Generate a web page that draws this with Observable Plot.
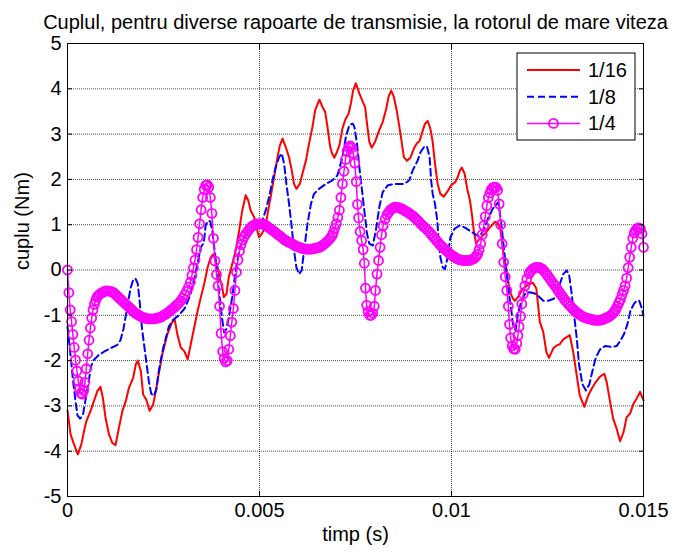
<!DOCTYPE html>
<html><head><meta charset="utf-8">
<script src="https://cdn.jsdelivr.net/npm/d3@7"></script>
<script src="https://cdn.jsdelivr.net/npm/@observablehq/plot@0.6"></script>
<style>body{margin:0;background:#fff} #chart{width:676px;height:553px}</style>
</head><body><div id="chart"></div>
<script>
const titlu = "Cuplul, pentru diverse rapoarte de transmisie, la rotorul de mare viteza";
const etichetaX = "timp (s)";
const etichetaY = "cuplu (Nm)";
const xTicks = [0, 5, 10, 15]; // ms
const xTickLabels = ["0", "0.005", "0.01", "0.015"];
const yTicks = [-5, -4, -3, -2, -1, 0, 1, 2, 3, 4, 5];
const serii = ["1/16", "1/8", "1/4"];
const culori = ["#ff0000", "#0000ff", "#ff00ff"];

// [timp (ms), cuplu (Nm)]
const raport16 = [
[0,-3.1],[0.08,-3.63],[0.17,-3.85],[0.27,-4.07],[0.36,-3.85],[0.43,-3.56],[0.49,-3.34],[0.6,-3.11],[0.69,-2.89],[0.78,-2.67],
[0.86,-2.58],[0.92,-2.82],[0.99,-3.26],[1.08,-3.63],[1.17,-3.82],[1.25,-3.87],[1.34,-3.48],[1.43,-3.11],[1.52,-2.89],[1.6,-2.6],
[1.71,-2.38],[1.78,-2.08],[1.83,-2.0],[1.91,-2.23],[1.97,-2.75],[2.05,-2.86],[2.14,-3.11],[2.23,-2.97],[2.3,-2.67],[2.39,-2.23],
[2.47,-1.86],[2.6,-1.42],[2.72,-1.16],[2.79,-1.08],[2.86,-1.42],[2.95,-1.71],[3.04,-1.79],[3.13,-1.97],[3.21,-1.64],[3.3,-1.27],
[3.39,-0.9],[3.47,-0.61],[3.56,-0.31],[3.65,0.06],[3.73,0.28],[3.8,0.35],[3.9,0.1],[3.97,-0.2],[4.03,-0.38],[4.07,-0.6],
[4.14,-0.53],[4.2,-0.16],[4.29,0.13],[4.38,0.43],[4.47,0.87],[4.55,1.31],[4.64,1.65],[4.71,1.53],[4.77,1.31],[4.86,1.17],
[4.92,0.94],[4.99,0.72],[5.06,0.8],[5.15,0.94],[5.21,1.24],[5.29,1.61],[5.38,2.05],[5.47,2.49],[5.53,2.75],[5.6,2.9],
[5.68,2.72],[5.77,2.49],[5.84,2.2],[5.9,1.9],[5.96,1.79],[6.05,1.9],[6.12,2.13],[6.21,2.42],[6.29,2.79],[6.38,3.16],
[6.45,3.53],[6.56,3.76],[6.64,3.6],[6.71,3.49],[6.77,3.16],[6.84,2.72],[6.89,2.57],[6.95,2.48],[7.02,2.61],[7.08,2.75],
[7.16,3.12],[7.23,3.31],[7.32,3.45],[7.38,3.68],[7.44,3.97],[7.51,4.12],[7.6,3.9],[7.69,3.71],[7.75,3.6],[7.8,3.23],
[7.86,2.83],[7.92,2.7],[8.01,2.83],[8.1,3.05],[8.21,3.27],[8.3,3.56],[8.36,3.82],[8.43,3.96],[8.5,3.82],[8.58,3.49],
[8.67,3.01],[8.76,2.49],[8.84,2.41],[8.93,2.48],[9.02,2.68],[9.1,2.8],[9.17,2.85],[9.24,3.05],[9.31,3.23],[9.38,3.29],
[9.45,3.12],[9.51,2.83],[9.57,2.35],[9.64,1.9],[9.71,1.68],[9.8,1.62],[9.9,1.74],[9.99,1.87],[10.1,1.94],[10.17,2.07],
[10.22,2.2],[10.27,2.26],[10.34,2.13],[10.41,1.79],[10.48,1.54],[10.53,1.24],[10.58,0.87],[10.64,0.58],[10.73,0.69],[10.87,0.8],
[11.0,0.94],[11.13,1.06],[11.2,1.05],[11.27,0.9],[11.35,0.4],[11.45,-0.1],[11.52,-0.48],[11.6,-0.63],[11.65,-0.68],[11.73,-0.6],
[11.86,-0.41],[11.99,-0.33],[12.12,-0.28],[12.21,-0.41],[12.3,-1.14],[12.39,-1.37],[12.47,-1.81],[12.54,-1.94],[12.65,-1.73],[12.73,-1.67],
[12.82,-1.64],[12.91,-1.53],[13.0,-1.48],[13.08,-1.44],[13.17,-1.81],[13.26,-2.32],[13.34,-2.77],[13.46,-3.02],[13.56,-2.77],[13.65,-2.62],
[13.73,-2.51],[13.86,-2.36],[13.98,-2.29],[14.04,-2.47],[14.13,-2.91],[14.21,-3.28],[14.3,-3.5],[14.39,-3.78],[14.48,-3.58],[14.56,-3.25],
[14.65,-3.17],[14.74,-2.95],[14.82,-2.84],[14.91,-2.69],[15.0,-2.88]
];

const raport8 = [
[0,-1.25],[0.07,-1.81],[0.14,-2.4],[0.2,-2.84],[0.26,-3.21],[0.33,-3.28],[0.4,-3.21],[0.46,-2.91],[0.55,-2.47],[0.61,-2.14],
[0.68,-1.99],[0.81,-1.88],[0.94,-1.81],[1.11,-1.73],[1.29,-1.66],[1.38,-1.55],[1.46,-1.29],[1.55,-0.85],[1.64,-0.41],[1.71,-0.22],
[1.77,-0.19],[1.83,-0.3],[1.88,-0.7],[1.94,-1.29],[2.03,-1.88],[2.12,-2.47],[2.18,-2.73],[2.25,-2.78],[2.32,-2.62],[2.36,-2.32],
[2.42,-2.03],[2.49,-1.73],[2.58,-1.44],[2.64,-1.25],[2.75,-1.1],[2.9,-1.0],[3.05,-0.85],[3.2,-0.55],[3.3,-0.2],[3.4,0.2],
[3.47,0.5],[3.55,0.6],[3.6,1.0],[3.67,1.09],[3.72,1.07],[3.77,0.87],[3.85,0.3],[3.95,-0.5],[4.03,-1.1],[4.08,-1.38],
[4.14,-1.3],[4.2,-1.05],[4.29,-0.6],[4.38,-0.01],[4.47,0.43],[4.55,0.65],[4.68,0.8],[4.81,0.87],[4.94,0.94],[5.07,1.09],
[5.16,1.31],[5.25,1.61],[5.34,1.98],[5.42,2.27],[5.51,2.49],[5.58,2.57],[5.64,2.35],[5.7,1.9],[5.77,1.46],[5.84,0.94],
[5.9,0.43],[5.96,0.06],[6.03,-0.09],[6.1,-0.01],[6.16,0.43],[6.25,1.02],[6.34,1.46],[6.42,1.68],[6.55,1.79],[6.73,1.9],
[6.9,1.98],[7.03,2.09],[7.16,2.49],[7.25,2.94],[7.34,3.2],[7.43,3.23],[7.47,3.16],[7.54,2.79],[7.6,2.27],[7.66,1.83],
[7.73,1.31],[7.8,0.8],[7.86,0.58],[7.95,0.54],[8.03,0.87],[8.12,1.39],[8.21,1.72],[8.34,1.87],[8.51,1.9],[8.77,1.9],
[8.9,1.98],[8.99,2.2],[9.12,2.42],[9.2,2.61],[9.29,2.72],[9.36,2.73],[9.43,2.49],[9.47,1.98],[9.51,1.68],[9.57,1.46],
[9.63,1.09],[9.66,0.72],[9.71,0.28],[9.77,0.06],[9.83,0.02],[9.9,0.28],[9.97,0.72],[10.08,0.91],[10.21,0.98],[10.34,0.94],
[10.47,0.87],[10.6,0.8],[10.73,0.74],[10.85,0.9],[10.95,1.14],[11.08,1.36],[11.15,1.43],[11.22,1.5],[11.3,1.0],[11.4,0.2],
[11.5,-0.55],[11.56,-0.9],[11.6,-1.2],[11.67,-1.34],[11.73,-0.97],[11.82,-0.68],[11.91,-0.53],[12.04,-0.49],[12.21,-0.53],[12.39,-0.68],
[12.52,-0.68],[12.65,-0.64],[12.74,-0.57],[12.82,-0.31],[12.91,-0.09],[13.0,-0.01],[13.06,-0.09],[13.12,-0.46],[13.18,-0.9],[13.26,-1.49],
[13.32,-2.08],[13.41,-2.52],[13.5,-2.66],[13.59,-2.52],[13.67,-2.23],[13.76,-1.93],[13.87,-1.75],[14.0,-1.68],[14.17,-1.7],[14.3,-1.68],
[14.4,-1.56],[14.49,-1.42],[14.58,-1.2],[14.66,-0.9],[14.75,-0.75],[14.82,-0.68],[14.89,-0.68],[14.95,-0.83],[15.0,-1.01]
];

const raport4 = [
[0,0],[0.035,-0.5],[0.07,-0.88],[0.105,-1.14],[0.14,-1.42],[0.175,-1.71],[0.21,-1.99],[0.245,-2.23],[0.28,-2.45],[0.315,-2.62],
[0.35,-2.72],[0.385,-2.74],[0.42,-2.66],[0.455,-2.48],[0.49,-2.18],[0.525,-1.85],[0.56,-1.55],[0.595,-1.28],[0.63,-1.06],[0.665,-0.88],
[0.7,-0.76],[0.735,-0.67],[0.77,-0.6],[0.805,-0.56],[0.85,-0.53],[0.9,-0.5],[0.95,-0.48],[1.0,-0.46],[1.05,-0.46],[1.1,-0.47],
[1.15,-0.48],[1.2,-0.5],[1.25,-0.54],[1.3,-0.58],[1.35,-0.62],[1.4,-0.66],[1.45,-0.7],[1.5,-0.74],[1.55,-0.78],[1.6,-0.82],
[1.65,-0.86],[1.7,-0.9],[1.75,-0.94],[1.8,-0.97],[1.85,-1.0],[1.9,-1.02],[1.95,-1.04],[2.0,-1.06],[2.05,-1.07],[2.1,-1.08],
[2.15,-1.08],[2.2,-1.08],[2.25,-1.08],[2.3,-1.07],[2.35,-1.06],[2.4,-1.05],[2.45,-1.03],[2.5,-1.0],[2.55,-0.98],[2.6,-0.95],
[2.65,-0.92],[2.7,-0.88],[2.75,-0.85],[2.8,-0.81],[2.85,-0.77],[2.9,-0.73],[2.95,-0.68],[3.0,-0.62],[3.05,-0.55],[3.1,-0.47],
[3.15,-0.38],[3.2,-0.27],[3.24,-0.12],[3.28,0.05],[3.32,0.22],[3.36,0.45],[3.4,0.72],[3.44,1.02],[3.48,1.33],[3.52,1.6],
[3.56,1.78],[3.6,1.87],[3.64,1.88],[3.68,1.83],[3.72,1.6],[3.76,1.25],[3.8,0.7],[3.84,0.2],[3.88,-0.1],[3.92,-0.35],
[3.96,-0.8],[4.0,-1.4],[4.04,-1.8],[4.08,-1.95],[4.12,-2.03],[4.16,-2.0],[4.2,-1.75],[4.24,-1.45],[4.28,-1.15],[4.32,-0.85],
[4.36,-0.45],[4.4,-0.05],[4.44,0.22],[4.48,0.42],[4.52,0.56],[4.56,0.66],[4.6,0.74],[4.65,0.8],[4.7,0.86],[4.75,0.92],
[4.8,0.96],[4.85,0.99],[4.9,1.01],[4.95,1.02],[5.0,1.02],[5.05,1.02],[5.1,1.01],[5.15,0.99],[5.2,0.96],[5.25,0.93],
[5.3,0.9],[5.35,0.87],[5.4,0.84],[5.45,0.8],[5.5,0.77],[5.55,0.74],[5.6,0.7],[5.65,0.67],[5.7,0.64],[5.75,0.62],
[5.8,0.6],[5.85,0.58],[5.9,0.55],[5.95,0.53],[6.0,0.51],[6.05,0.5],[6.1,0.48],[6.15,0.47],[6.2,0.46],[6.25,0.46],
[6.3,0.46],[6.35,0.46],[6.4,0.47],[6.45,0.48],[6.5,0.49],[6.55,0.5],[6.6,0.52],[6.65,0.55],[6.7,0.58],[6.75,0.62],
[6.8,0.66],[6.85,0.71],[6.89,0.76],[6.92,0.82],[6.96,0.92],[7.0,1.02],[7.04,1.16],[7.08,1.32],[7.12,1.6],[7.16,1.9],
[7.2,2.18],[7.24,2.44],[7.28,2.62],[7.32,2.71],[7.36,2.74],[7.4,2.7],[7.44,2.58],[7.48,2.36],[7.52,1.95],[7.55,1.45],
[7.58,1.15],[7.62,0.85],[7.66,0.65],[7.7,0.45],[7.73,0.15],[7.76,-0.4],[7.79,-0.78],[7.83,-0.92],[7.87,-1.0],[7.91,-1.0],
[7.95,-0.95],[7.99,-0.8],[8.02,-0.45],[8.06,-0.09],[8.1,0.21],[8.14,0.5],[8.18,0.78],[8.22,0.98],[8.27,1.12],[8.32,1.22],
[8.36,1.27],[8.4,1.32],[8.45,1.35],[8.5,1.38],[8.55,1.39],[8.6,1.38],[8.65,1.37],[8.7,1.35],[8.75,1.33],[8.8,1.3],
[8.85,1.28],[8.9,1.25],[8.95,1.22],[9.0,1.19],[9.05,1.15],[9.1,1.11],[9.15,1.07],[9.2,1.02],[9.25,0.98],[9.3,0.94],
[9.35,0.9],[9.4,0.86],[9.45,0.81],[9.5,0.76],[9.55,0.71],[9.6,0.66],[9.65,0.61],[9.7,0.56],[9.75,0.52],[9.8,0.48],
[9.85,0.44],[9.9,0.4],[9.95,0.36],[10.0,0.33],[10.05,0.3],[10.1,0.27],[10.15,0.25],[10.2,0.23],[10.25,0.22],[10.3,0.21],
[10.35,0.21],[10.4,0.21],[10.45,0.21],[10.5,0.22],[10.55,0.24],[10.6,0.26],[10.64,0.3],[10.68,0.35],[10.72,0.45],[10.76,0.58],
[10.8,0.78],[10.84,0.98],[10.88,1.18],[10.92,1.42],[10.96,1.6],[11.0,1.7],[11.04,1.78],[11.08,1.82],[11.12,1.83],[11.16,1.82],
[11.2,1.76],[11.24,1.46],[11.28,1.0],[11.32,0.58],[11.36,0.17],[11.4,-0.15],[11.44,-0.45],[11.48,-0.8],[11.51,-1.2],[11.54,-1.5],
[11.58,-1.68],[11.62,-1.74],[11.66,-1.75],[11.7,-1.62],[11.73,-1.45],[11.76,-1.25],[11.8,-1.02],[11.83,-0.75],[11.87,-0.53],[11.91,-0.35],
[11.96,-0.2],[12.02,-0.08],[12.06,-0.03],[12.1,0.01],[12.15,0.04],[12.2,0.06],[12.25,0.06],[12.3,0.05],[12.35,0.03],[12.4,-0.01],
[12.45,-0.06],[12.5,-0.12],[12.55,-0.18],[12.6,-0.24],[12.65,-0.3],[12.7,-0.35],[12.75,-0.42],[12.8,-0.48],[12.85,-0.54],[12.9,-0.6],
[12.95,-0.66],[13.0,-0.71],[13.05,-0.76],[13.1,-0.8],[13.15,-0.85],[13.2,-0.89],[13.25,-0.93],[13.3,-0.96],[13.35,-0.99],[13.4,-1.02],
[13.45,-1.04],[13.5,-1.06],[13.55,-1.07],[13.6,-1.08],[13.65,-1.09],[13.7,-1.1],[13.75,-1.11],[13.8,-1.11],[13.85,-1.11],[13.9,-1.1],
[13.95,-1.09],[14.0,-1.07],[14.05,-1.05],[14.1,-1.03],[14.15,-1.0],[14.2,-0.96],[14.24,-0.92],[14.28,-0.87],[14.32,-0.8],[14.36,-0.72],
[14.4,-0.65],[14.44,-0.55],[14.48,-0.45],[14.52,-0.35],[14.56,-0.18],[14.6,0.05],[14.64,0.28],[14.68,0.5],[14.72,0.7],[14.76,0.82],
[14.8,0.88],[14.84,0.92],[14.88,0.93],[14.92,0.91],[14.96,0.8],[15.0,0.5]
];

const font = "'Liberation Sans', Arial, Helvetica, sans-serif";
const toRows = (arr) => arr.map(([t, v]) => ({t, v}));
const d16 = toRows(raport16), d8 = toRows(raport8), d4 = toRows(raport4);
const gridStyle = {stroke: "#000", strokeOpacity: 0.7, strokeDasharray: "1,1"};

const plot = Plot.plot({
  width: 676, height: 553,
  marginTop: 43, marginBottom: 57, marginLeft: 67, marginRight: 33,
  style: {fontFamily: font, fontSize: "20px", background: "#fff", color: "#000", overflow: "visible"},
  x: {domain: [0, 15]},
  y: {domain: [-5, 5]},
  marks: [
    Plot.gridX(xTicks, gridStyle),
    Plot.gridY(yTicks, gridStyle),
    Plot.line(d16, {x: "t", y: "v", stroke: culori[0], strokeWidth: 2}),
    Plot.line(d8, {x: "t", y: "v", stroke: culori[1], strokeWidth: 2, strokeDasharray: "7,4"}),
    Plot.line(d4, {x: "t", y: "v", stroke: culori[2], strokeWidth: 1.5}),
    Plot.dot(d4, {x: "t", y: "v", r: 4.5, stroke: culori[2], strokeWidth: 1.8, fill: "none"}),
    Plot.frame({stroke: "#000"}),
    Plot.axisX(xTicks, {anchor: "bottom", tickSize: -5, tickPadding: 11, label: null,
      tickFormat: d => xTickLabels[xTicks.indexOf(d)]}),
    Plot.axisX(xTicks, {anchor: "top", tickSize: -5, label: null, tickFormat: () => ""}),
    Plot.axisY(yTicks, {anchor: "left", tickSize: -5, tickPadding: 11, label: null, tickFormat: d => String(d)}),
    Plot.axisY(yTicks, {anchor: "right", tickSize: -5, label: null, tickFormat: () => ""}),
    Plot.text([titlu], {frameAnchor: "top", dy: -29, fontSize: 20}),
    Plot.text([etichetaX], {frameAnchor: "bottom", dy: 44, fontSize: 20}),
    Plot.text([etichetaY], {frameAnchor: "left", dx: -45, rotate: -90, fontSize: 20})
  ]
});
document.getElementById("chart").appendChild(plot);

// legend
const svg = d3.select(plot);
const lg = svg.append("g").attr("font-family", font).attr("font-size", 20).attr("text-anchor", "start");
lg.append("rect").attr("x", 517).attr("y", 53).attr("width", 118).attr("height", 87)
  .attr("fill", "#fff").attr("stroke", "#000");
serii.forEach((s, i) => {
  const y = 70 + i * 26.7;
  const ln = lg.append("line").attr("x1", 527).attr("x2", 580).attr("y1", y).attr("y2", y)
    .attr("stroke", culori[i]).attr("stroke-width", i === 2 ? 1.5 : 2);
  if (i === 1) ln.attr("stroke-dasharray", "7,4");
  if (i === 2) lg.append("circle").attr("cx", 553.5).attr("cy", y).attr("r", 4.5)
    .attr("fill", "none").attr("stroke", culori[i]).attr("stroke-width", 1.8);
  lg.append("text").attr("x", 588).attr("y", y).attr("dy", "0.35em").attr("text-anchor", "start").text(s);
});
</script></body></html>
